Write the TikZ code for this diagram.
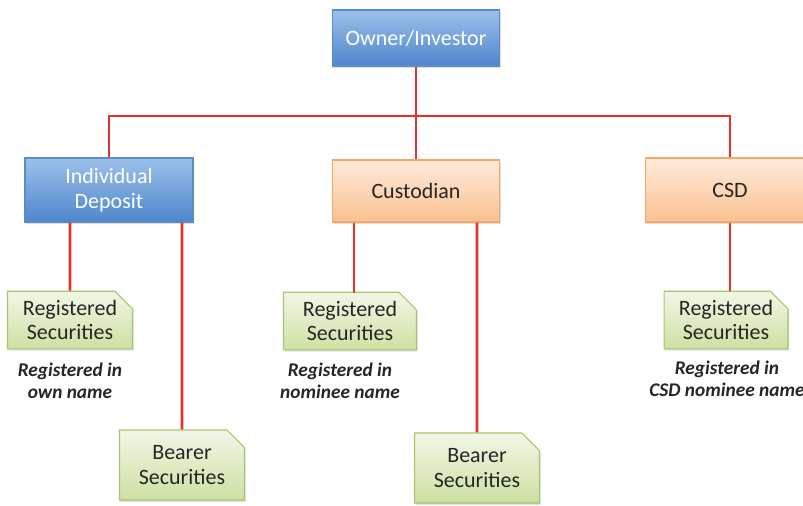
\documentclass[tikz,border=0pt]{standalone}
\usepackage{fontspec}
\setmainfont{Carlito}
\usetikzlibrary{shapes.misc,shadows}

\definecolor{linkred}{HTML}{E5322B}
\definecolor{blueedge}{HTML}{5B8CC8}
\definecolor{bluetop}{HTML}{9CC0EA}
\definecolor{bluebot}{HTML}{4F86CC}
\definecolor{orangeedge}{HTML}{F3A86A}
\definecolor{orangetop}{HTML}{FEEBDC}
\definecolor{orangebot}{HTML}{FAC08F}
\definecolor{greenedge}{HTML}{A9C46C}
\definecolor{greentop}{HTML}{F2F7E6}
\definecolor{greenbot}{HTML}{CDE0A2}

\tikzset{
  box/.style={draw, line width=0.6pt, inner sep=0pt, align=center,
    font=\fontsize{12.5}{14}\selectfont,
    drop shadow={opacity=0.25, shadow xshift=0.6pt, shadow yshift=-1pt}},
  holder/.style={box, draw=blueedge, top color=bluetop, bottom color=bluebot, text=white},
  agent/.style={box, draw=orangeedge, top color=orangetop, bottom color=orangebot, text=black!85},
  paper/.style={box, chamfered rectangle, chamfered rectangle corners=north east,
    chamfered rectangle xsep=5pt, chamfered rectangle ysep=5pt,
    draw=greenedge, top color=greentop, bottom color=greenbot, text=black!85},
  note/.style={align=center, font=\fontsize{11}{12.6}\selectfont\bfseries\itshape, text=black!85},
  link/.style={draw=linkred, line width=1.5pt}
}

\begin{document}
\begin{tikzpicture}[x=0.02cm,y=-0.02cm]
  \useasboundingbox (0,0) rectangle (803,505);
  \clip (0,0) rectangle (803,505);

  % top and middle row
  \node[holder, minimum width=3.34cm, minimum height=1.12cm] (owner) at (416,38) {Owner/Investor};
  \node[holder, minimum width=3.36cm, minimum height=1.28cm] (indiv) at (109,190) {Individual\\Deposit};
  \node[agent, minimum width=3.34cm, minimum height=1.24cm] (cust) at (416,191) {Custodian};
  \node[agent, minimum width=3.40cm, minimum height=1.28cm] (csd) at (730,190) {CSD};
  \coordinate (bar) at (416,116);

  % securities
  \node[paper, minimum width=2.50cm, minimum height=1.10cm] (reg1) at (70,320) {Registered\\Securities};
  \node[paper, minimum width=2.50cm, minimum height=1.40cm] (bear1) at (182,465) {Bearer\\Securities};
  \node[paper, minimum width=2.66cm, minimum height=1.14cm] (reg2) at (350,321) {Registered\\Securities};
  \node[paper, minimum width=2.50cm, minimum height=1.40cm] (bear2) at (477,468) {Bearer\\Securities};
  \node[paper, minimum width=2.48cm, minimum height=1.10cm] (reg3) at (726,320) {Registered\\Securities};
  \coordinate (reg2in) at (354,293);

  \node[note] (note1) at (70,381) {Registered in\\own name};
  \node[note] (note2) at (340,381) {Registered in\\nominee name};
  \node[note] (note3) at (727,379) {Registered in\\CSD nominee name};

  % connectors
  \draw[link] (owner) -- (cust);
  \draw[link] (indiv) |- (bar) -| (csd);
  \draw[link] (reg1 |- indiv.south) -- (reg1);
  \draw[link] (bear1 |- indiv.south) -- (bear1);
  \draw[link] (reg2in |- cust.south) -- (reg2in);
  \draw[link] (bear2 |- cust.south) -- (bear2);
  \draw[link] (csd) -- (csd |- reg3.north);
\end{tikzpicture}
\end{document}
